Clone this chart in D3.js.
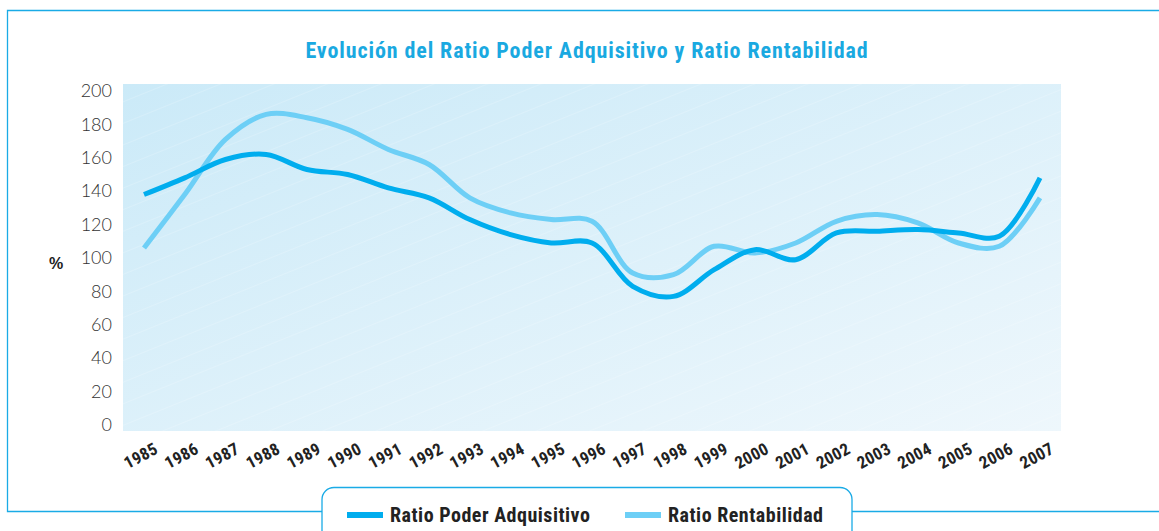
<!DOCTYPE html>
<html lang="es">
<head>
    <meta charset="UTF-8">
    <script src="https://d3js.org/d3.v7.min.js"></script>
    <style>
        body { margin: 0; background: #fff; }
        svg { display: block; }
        .cond { font-family: "Liberation Sans Narrow", "Roboto Condensed", "DejaVu Sans Condensed", Arial, sans-serif; }
    </style>
</head>
<body>
    <div id="chart"></div>
    <script>
        // Datos
        const years = ["1985","1986","1987","1988","1989","1990","1991","1992","1993","1994","1995","1996",
                       "1997","1998","1999","2000","2001","2002","2003","2004","2005","2006","2007"];
        const poderAdquisitivo = [138, 148, 159, 162, 153, 150, 142, 136, 123, 114, 109, 109,
                                  83, 77, 93, 105, 99, 115, 116, 117, 115, 113, 148];
        const rentabilidad = [106, 138, 171, 186, 184, 177, 165, 156, 136, 127, 123, 122,
                              91, 90, 107, 103, 109, 122, 126, 121, 109, 107, 136];
        const yTicks = [0, 20, 40, 60, 80, 100, 120, 140, 160, 180, 200];

        const series = [
            { name: "Ratio Poder Adquisitivo", values: poderAdquisitivo, color: "#00adee" },
            { name: "Ratio Rentabilidad", values: rentabilidad, color: "#6dcff6" }
        ];

        const width = 1159, height = 531;
        const plot = { left: 123, right: 1061, top: 84, bottom: 431 };

        const svg = d3.select("#chart").append("svg")
            .attr("width", width)
            .attr("height", height);

        const defs = svg.append("defs");
        const grad = defs.append("linearGradient")
            .attr("id", "bg").attr("x1", "0%").attr("y1", "0%").attr("x2", "100%").attr("y2", "100%");
        grad.append("stop").attr("offset", "0%").attr("stop-color", "#cbeaf8");
        grad.append("stop").attr("offset", "100%").attr("stop-color", "#eef7fc");

        const pat = defs.append("pattern")
            .attr("id", "stripes")
            .attr("patternUnits", "userSpaceOnUse")
            .attr("width", 20).attr("height", 20)
            .attr("patternTransform", "rotate(-22)");
        pat.append("line")
            .attr("x1", 0).attr("y1", 0).attr("x2", 20).attr("y2", 0)
            .attr("stroke", "#fff").attr("stroke-opacity", 0.35).attr("stroke-width", 1);

        // Marco
        svg.append("path")
            .attr("d", "M1159,10.5 H7.5 V511.5 H322 M852,511.5 H1159")
            .attr("fill", "none")
            .attr("stroke", "#1aabe6")
            .attr("stroke-width", 1.3);

        // Titulo
        svg.append("text")
            .attr("class", "cond")
            .attr("x", 587).attr("y", 58)
            .attr("text-anchor", "middle")
            .attr("font-size", 22).attr("font-weight", "bold")
            .attr("letter-spacing", 0.9)
            .attr("fill", "#1aa9e1")
            .text("Evolución del Ratio Poder Adquisitivo y Ratio Rentabilidad");

        // Fondo del area de trazado
        svg.append("rect")
            .attr("x", plot.left).attr("y", plot.top)
            .attr("width", plot.right - plot.left).attr("height", plot.bottom - plot.top)
            .attr("fill", "url(#bg)");
        svg.append("rect")
            .attr("x", plot.left).attr("y", plot.top)
            .attr("width", plot.right - plot.left).attr("height", plot.bottom - plot.top)
            .attr("fill", "url(#stripes)");

        const x = d3.scalePoint().domain(years).range([144, 1040]);
        const y = d3.scaleLinear().domain([0, 200]).range([425, 91]);

        // Eje Y
        const yAxis = svg.append("g")
            .attr("transform", "translate(112,0)")
            .call(d3.axisLeft(y).tickValues(yTicks).tickSize(0).tickPadding(0));
        yAxis.select(".domain").remove();
        yAxis.selectAll("text")
            .attr("font-family", "Lato, 'Open Sans', sans-serif")
            .attr("font-weight", 300)
            .attr("font-size", 18)
            .attr("fill", "#333");

        svg.append("text")
            .attr("x", 56).attr("y", 269)
            .attr("text-anchor", "middle")
            .attr("font-family", "Arial, sans-serif")
            .attr("font-weight", "bold")
            .attr("font-size", 16)
            .attr("fill", "#222")
            .text("%");

        // Eje X
        const xAxis = svg.append("g")
            .attr("transform", "translate(0,431)")
            .call(d3.axisBottom(x).tickSize(0));
        xAxis.select(".domain").remove();
        xAxis.selectAll("text")
            .attr("class", "cond")
            .attr("font-size", 17)
            .attr("font-weight", "bold")
            .attr("letter-spacing", 0.3)
            .attr("fill", "#222")
            .attr("text-anchor", "middle")
            .attr("y", 0).attr("dy", 0)
            .attr("transform", "translate(-1,30) rotate(-28)");

        // Lineas
        const line = d3.line()
            .x((d, i) => x(years[i]))
            .y(d => y(d))
            .curve(d3.curveCatmullRom);

        svg.selectAll(".serie")
            .data(series.slice().reverse())
            .enter().append("path")
            .attr("class", "serie")
            .attr("d", d => line(d.values))
            .attr("fill", "none")
            .attr("stroke", d => d.color)
            .attr("stroke-width", 5);

        // Leyenda
        svg.append("rect")
            .attr("x", 322).attr("y", 487.5)
            .attr("width", 530).attr("height", 70)
            .attr("rx", 12)
            .attr("fill", "#fff")
            .attr("stroke", "#1aabe6")
            .attr("stroke-width", 1.3);

        const legendX = [347, 625];
        const leg = svg.selectAll(".leg")
            .data(series)
            .enter().append("g")
            .attr("class", "leg")
            .attr("transform", (d, i) => `translate(${legendX[i]},515)`);
        leg.append("rect")
            .attr("x", 0).attr("y", -3)
            .attr("width", 36).attr("height", 6)
            .attr("fill", d => d.color);
        leg.append("text")
            .attr("class", "cond")
            .attr("x", d => d === series[0] ? 43 : 43)
            .attr("y", 7)
            .attr("font-size", 20)
            .attr("font-weight", "bold")
            .attr("letter-spacing", 0.5)
            .attr("fill", "#222")
            .text(d => d.name);
    </script>
</body>
</html>
